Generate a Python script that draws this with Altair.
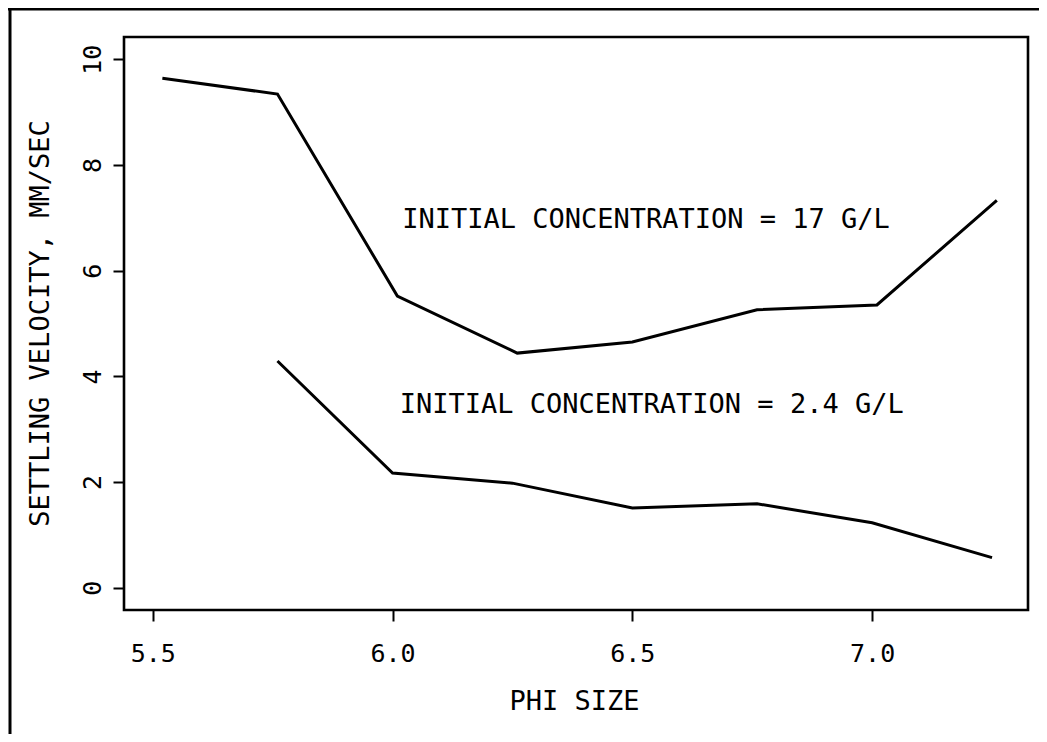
import altair as alt
import pandas as pd

# Data
phi_17 = [5.52, 5.76, 6.01, 6.26, 6.50, 6.76, 7.01, 7.26]
vel_17 = [9.64, 9.34, 5.52, 4.44, 4.65, 5.26, 5.35, 7.33]
phi_24 = [5.76, 6.00, 6.25, 6.50, 6.76, 7.00, 7.25]
vel_24 = [4.29, 2.17, 1.98, 1.51, 1.59, 1.23, 0.57]

label_texts = ["INITIAL CONCENTRATION = 17 G/L", "INITIAL CONCENTRATION = 2.4 G/L"]
label_x = [6.02, 6.015]
label_y = [6.96, 3.45]

x_ticks = [5.5, 6.0, 6.5, 7.0]
y_ticks = [0, 2, 4, 6, 8, 10]

FONT = "DejaVu Sans Mono"
W, H = 904, 573

lines_df = pd.concat([
    pd.DataFrame({"phi": phi_17, "vel": vel_17, "series": "17 G/L"}),
    pd.DataFrame({"phi": phi_24, "vel": vel_24, "series": "2.4 G/L"}),
])
text_df = pd.DataFrame({"text": label_texts, "phi": label_x, "vel": label_y})

xscale = alt.Scale(domain=[5.44, 7.325], nice=False, zero=False)
yscale = alt.Scale(domain=[-0.42, 10.42], nice=False, zero=False)

xaxis = alt.Axis(values=x_ticks, format=".1f", title="PHI SIZE", grid=False,
                 domain=False, tickSize=11, tickWidth=2, tickColor="black",
                 labelPadding=20, labelFontSize=25, labelFont=FONT, labelColor="black",
                 titleFont=FONT, titleFontSize=27, titleFontWeight="normal", titleColor="black",
                 titleX=450, titleY=99, titleBaseline="alphabetic", titleAlign="center")
yaxis = alt.Axis(values=y_ticks, format="d", title="SETTLING VELOCITY, MM/SEC", grid=False,
                 domain=False, tickSize=11, tickWidth=2, tickColor="black",
                 labelAngle=270, labelAlign="center", labelBaseline="alphabetic",
                 labelPadding=13, labelFontSize=25, labelFont=FONT, labelColor="black",
                 titleFont=FONT, titleFontSize=27, titleFontWeight="normal", titleColor="black",
                 titleAngle=270, titleX=-76, titleY=286, titleBaseline="alphabetic",
                 titleAlign="center")

lines = alt.Chart(lines_df).mark_line(color="black", strokeWidth=3).encode(
    x=alt.X("phi:Q", scale=xscale, axis=xaxis),
    y=alt.Y("vel:Q", scale=yscale, axis=yaxis),
    detail="series:N",
)

texts = alt.Chart(text_df).mark_text(
    align="left", baseline="middle", font=FONT, fontSize=27, color="black"
).encode(
    x=alt.X("phi:Q", scale=xscale),
    y=alt.Y("vel:Q", scale=yscale),
    text="text:N",
)

one = pd.DataFrame({"k": [0]})
border_left = alt.Chart(one).mark_rule(color="black", strokeWidth=3).encode(
    x=alt.value(-114), y=alt.value(-28), y2=alt.value(H + 124)
)
border_top = alt.Chart(one).mark_rule(color="black", strokeWidth=3).encode(
    x=alt.value(-116), x2=alt.value(W + 11), y=alt.value(-28)
)

chart = alt.layer(lines, texts, border_left, border_top).properties(
    width=W, height=H,
    autosize=alt.AutoSizeParams(type="none"),
    padding={"left": 116, "top": 29, "right": 11, "bottom": 124},
    background="white",
).configure_view(stroke="black", strokeWidth=2.6)

chart.save("out.html", embed_options={"renderer": "svg", "actions": False})
